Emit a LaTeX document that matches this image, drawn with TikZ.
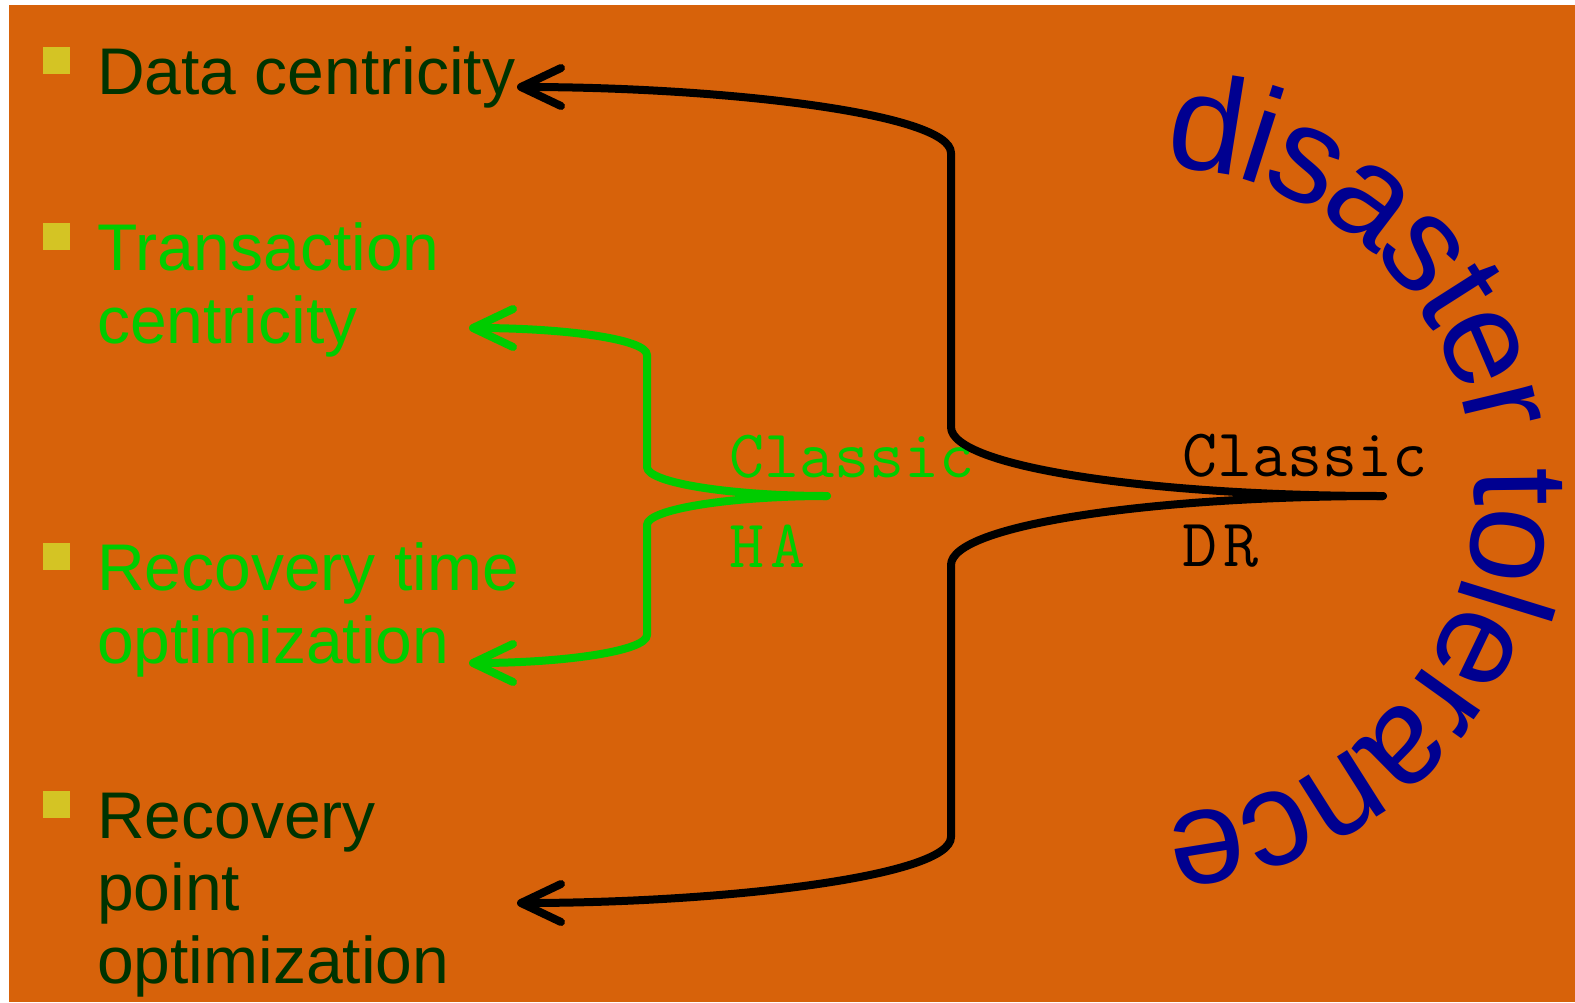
\documentclass[tikz,border=0pt]{standalone}
\usepackage{fontspec}
\setmainfont{Liberation Sans}
\setmonofont{Latin Modern Mono}
\usetikzlibrary{arrows.meta}
\definecolor{slidebg}{RGB}{215,98,10}
\definecolor{darkleaf}{RGB}{0,51,0}
\definecolor{brightleaf}{RGB}{0,204,0}
\definecolor{bulletgold}{RGB}{212,196,36}
\definecolor{navyink}{RGB}{0,0,144}
\begin{document}
\begin{tikzpicture}[x=1pt,y=1pt,
  item/.style={anchor=base west, inner sep=0pt, align=left,
    font=\fontsize{66}{72.5}\selectfont},
  bulletsq/.style={fill=bulletgold, draw=none, minimum size=27pt,
    inner sep=0pt, anchor=north west},
  tag/.style={anchor=base west, inner sep=0pt, align=left,
    font=\ttfamily\fontsize{68}{90}\selectfont},
  brace/.style={line width=8pt, line cap=round, line join=round,
    -{Straight Barb[length=40pt,width=38pt,round]}},
  arcletter/.style={anchor=base, inner sep=0pt, text=navyink,
    font=\fontsize{136}{136}\selectfont},
]
% canvas
\useasboundingbox (0,0) rectangle (1575,-1002);
\fill[white] (0,0) rectangle (1575,-1002);
\fill[slidebg] (9,-5) rectangle (1575,-1002);

% bullet list (multi-line nodes are placed by their last baseline)
\node[bulletsq] (b1) at (43,-47) {};
\node[bulletsq] (b2) at (43,-223) {};
\node[bulletsq] (b3) at (43,-543) {};
\node[bulletsq] (b4) at (43,-791) {};
\node[item, text=darkleaf]   (t1) at (97,-94)  {Data centricity};
\node[item, text=brightleaf] (t2) at (97,-343) {Transaction\\centricity};
\node[item, text=brightleaf] (t3) at (97,-663) {Recovery time\\optimization};
\node[item, text=darkleaf]   (t4) at (97,-983) {Recovery\\point\\optimization};

% brace labels
\node[tag, text=brightleaf] (ha) at (729,-567)  {Classic\\H\kern6pt A};
\node[tag, text=black]      (dr) at (1182,-566) {Classic\\D\kern6pt R};

% brace roots and arrow ends
\coordinate (haroot) at (827,-496);
\coordinate (drroot) at (1383,-496);
\coordinate (tipA) at (517,-87);
\coordinate (tipB) at (469,-328);
\coordinate (tipC) at (469,-663);
\coordinate (tipD) at (517,-903);

% DR brace
\draw[brace, black] (drroot) .. controls (1152,-496) and (951,-467) .. (951,-427)
  -- (951,-153) .. controls (951,-113) and (720,-87) .. (tipA);
\draw[brace, black] (drroot) .. controls (1152,-496) and (951,-525) .. (951,-565)
  -- (951,-837) .. controls (951,-877) and (720,-903) .. (tipD);

% HA brace
\draw[brace, brightleaf] (haroot) .. controls (732,-496) and (647,-483) .. (647,-467)
  -- (647,-355) .. controls (647,-339) and (564,-328) .. (tipB);
\draw[brace, brightleaf] (haroot) .. controls (732,-496) and (647,-509) .. (647,-525)
  -- (647,-635) .. controls (647,-651) and (564,-663) .. (tipC);

% arched title: one letter per angle on a circle of radius 325 around arcc
\coordinate (arcc) at (1150,-491);
\foreach \ch/\ang [count=\i] in {d/80.92, i/72.33, s/64.37, a/52.72, s/41.08,
    t/32.49, e/23.30, r/13.49, t/0.62, o/-8.58, l/-17.16, e/-25.74,
    r/-35.55, a/-45.36, n/-57.62, c/-69.27, e/-80.92}
  \node[arcletter, rotate=\ang-90] (arc\i) at ([shift={(\ang:325)}]arcc) {\ch};
\end{tikzpicture}
\end{document}
